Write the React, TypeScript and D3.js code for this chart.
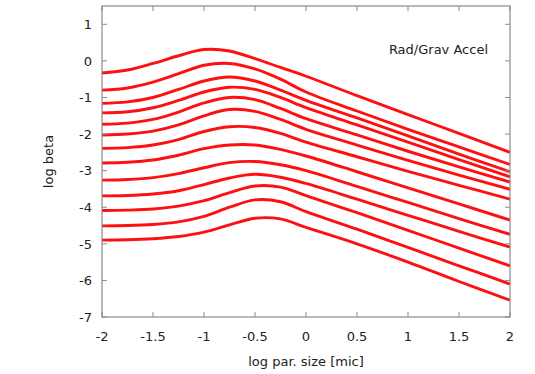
import * as d3 from "d3";

// log particle size grid (x) shared by all curves
const sizes = [-2, -1.75, -1.5, -1.25, -1, -0.75, -0.5, -0.25, 0, 0.5, 1, 1.5, 2];

// log beta for each curve, top to bottom
const curves: number[][] = [
  [-0.33, -0.25, -0.07, 0.14, 0.31, 0.27, 0.06, -0.18, -0.42, -0.95, -1.47, -1.98, -2.5],
  [-0.8, -0.74, -0.58, -0.35, -0.12, -0.07, -0.22, -0.5, -0.85, -1.37, -1.87, -2.35, -2.83],
  [-1.16, -1.12, -1.0, -0.78, -0.55, -0.44, -0.55, -0.8, -1.08, -1.56, -2.05, -2.55, -3.03],
  [-1.42, -1.39, -1.28, -1.08, -0.85, -0.72, -0.78, -1.0, -1.28, -1.75, -2.22, -2.7, -3.17],
  [-1.73, -1.7, -1.6, -1.4, -1.15, -1.0, -1.06, -1.3, -1.58, -2.02, -2.47, -2.9, -3.31],
  [-2.03, -2.0, -1.92, -1.75, -1.5, -1.33, -1.38, -1.6, -1.87, -2.3, -2.72, -3.12, -3.51],
  [-2.39, -2.37, -2.3, -2.15, -1.93, -1.8, -1.82, -1.98, -2.22, -2.62, -3.02, -3.4, -3.78],
  [-2.79, -2.77, -2.71, -2.58, -2.4, -2.3, -2.3, -2.42, -2.6, -3.03, -3.47, -3.91, -4.35],
  [-3.26, -3.24, -3.19, -3.08, -2.92, -2.78, -2.75, -2.84, -3.0, -3.43, -3.87, -4.31, -4.74],
  [-3.69, -3.68, -3.64, -3.55, -3.38, -3.2, -3.1, -3.18, -3.35, -3.78, -4.22, -4.66, -5.09],
  [-4.09, -4.08, -4.05, -3.97, -3.82, -3.6, -3.42, -3.45, -3.68, -4.15, -4.63, -5.12, -5.6],
  [-4.51, -4.5, -4.47, -4.4, -4.25, -4.0, -3.8, -3.85, -4.12, -4.6, -5.1, -5.6, -6.1],
  [-4.9, -4.89, -4.86, -4.8, -4.68, -4.48, -4.3, -4.32, -4.55, -5.0, -5.5, -6.03, -6.54],
];

const xTicks = [-2, -1.5, -1, -0.5, 0, 0.5, 1, 1.5, 2];
const yTicks = [1, 0, -1, -2, -3, -4, -5, -6, -7];

const width = 535;
const height = 374;
const margin = { top: 6, right: 25, bottom: 57, left: 102 };
const font = "'DejaVu Sans', sans-serif";
const frameColor = "#8a8a8a";
const textColor = "#222";

export default function App() {
  const x = d3.scaleLinear([-2, 2], [margin.left, width - margin.right]);
  const y = d3.scaleLinear([-7, 1.5], [height - margin.bottom, margin.top]);
  const line = d3
    .line<number>()
    .x((_, i) => x(sizes[i]))
    .y((d) => y(d))
    .curve(d3.curveCatmullRom.alpha(0.5));

  const [x0, x1] = x.range();
  const [y0, y1] = y.range(); // y0 bottom, y1 top
  const tick = 5;

  return (
    <svg
      width={width}
      height={height}
      style={{ position: "absolute", left: 0, top: 0, background: "#fff" }}
      fontFamily={font}
    >
      <rect x={0} y={0} width={width} height={height} fill="#fff" />

      {/* curves */}
      <g fill="none" stroke="#ff1010" strokeWidth={2.9} strokeLinejoin="round">
        {curves.map((c, i) => (
          <path key={i} d={line(c) ?? ""} />
        ))}
      </g>

      {/* frame */}
      <rect
        x={x0}
        y={y1}
        width={x1 - x0}
        height={y0 - y1}
        fill="none"
        stroke={frameColor}
        strokeWidth={1.2}
      />

      {/* ticks, mirrored on top and right */}
      <g stroke={frameColor} strokeWidth={1}>
        {xTicks.map((t) => (
          <g key={t}>
            <line x1={x(t)} x2={x(t)} y1={y0} y2={y0 - tick} />
            <line x1={x(t)} x2={x(t)} y1={y1} y2={y1 + tick} />
          </g>
        ))}
        {yTicks.map((t) => (
          <g key={t}>
            <line x1={x0} x2={x0 + tick} y1={y(t)} y2={y(t)} />
            <line x1={x1} x2={x1 - tick} y1={y(t)} y2={y(t)} />
          </g>
        ))}
      </g>

      {/* tick labels */}
      <g fill={textColor} fontSize={13}>
        {xTicks.map((t) => (
          <text key={t} x={x(t)} y={y0 + 24} textAnchor="middle">
            {String(t)}
          </text>
        ))}
        {yTicks.map((t) => (
          <text key={t} x={x0 - 10} y={y(t)} dy="0.36em" textAnchor="end">
            {String(t)}
          </text>
        ))}
      </g>

      {/* axis titles */}
      <text
        x={(x0 + x1) / 2}
        y={y0 + 49}
        textAnchor="middle"
        fontSize={13}
        fill={textColor}
      >
        log par. size [mic]
      </text>
      <text
        transform={`translate(${53},${(y0 + y1) / 2}) rotate(-90)`}
        textAnchor="middle"
        fontSize={13}
        fill={textColor}
      >
        log beta
      </text>

      <text x={488} y={54} textAnchor="end" fontSize={13} fill={textColor}>
        Rad/Grav Accel
      </text>
    </svg>
  );
}
